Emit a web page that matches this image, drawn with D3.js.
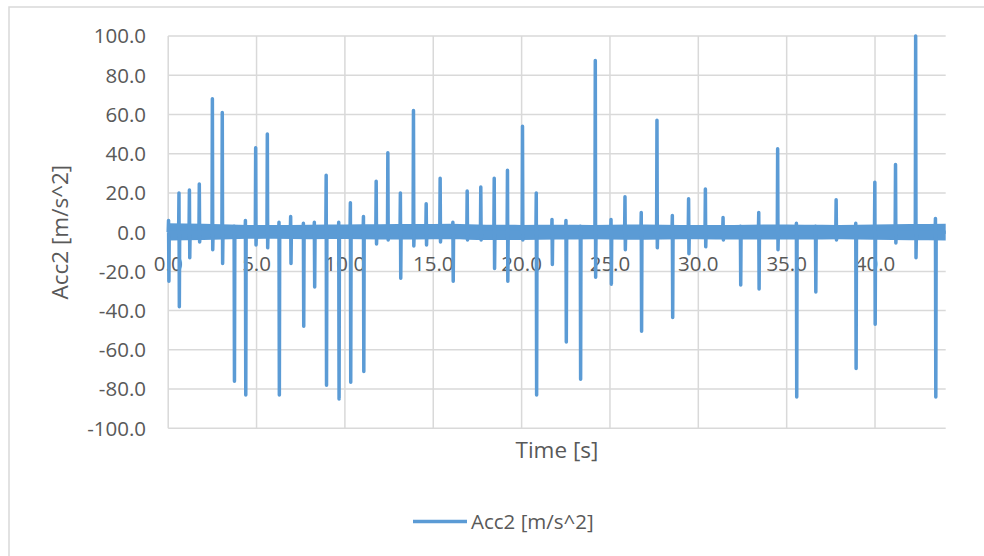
<!DOCTYPE html>
<html>
<head>
<meta charset="utf-8">
<script src="https://cdn.jsdelivr.net/npm/d3@7"></script>
<style>
  body { margin: 0; background: #fff; }
  text { font-family: "Open Sans", sans-serif; fill: #595959; }
</style>
</head>
<body>
<div id="chart"></div>
<script>
// Spikes: time [s], peak value, trough value
const spikeTimes = [0.02, 0.61, 1.2, 1.76, 2.5, 3.06, 3.73, 4.37, 4.95, 5.61, 6.27, 6.93, 7.65, 8.27, 8.94, 9.65,
  10.31, 11.05, 11.77, 12.43, 13.14, 13.88, 14.6, 15.39, 16.11, 16.92, 17.69, 18.45, 19.2, 20.05, 20.83, 21.72,
  22.51, 23.32, 24.17, 25.06, 25.85, 26.77, 27.66, 28.53, 29.45, 30.4, 31.4, 32.38, 33.42, 34.49, 35.55, 36.63,
  37.8, 38.91, 39.99, 41.16, 42.3, 43.42];
const spikeHigh = [6, 20, 21.5, 24.5, 68, 61, 3, 6, 43, 50, 5, 8, 4.5, 5, 29, 5,
  15, 8, 26, 40.5, 20, 62, 14.5, 27.5, 5, 21, 23, 27.5, 31.5, 54, 20, 6.5,
  6, 3, 87.5, 6.5, 18, 10, 57, 8.5, 17, 22, 7.5, 3, 10, 42.5, 4.5, 3,
  16.5, 4.5, 25.5, 34.5, 100, 7];
const spikeLow = [-25, -38, -13, -5, -9, -16, -76, -83, -6.5, -8, -83, -16, -48, -28, -78, -85,
  -76.5, -71, -6, -4, -23.5, -7, -6.5, -5, -25, -4, -4, -18.5, -25, -4, -83, -16.5,
  -56, -75, -23, -26.5, -9, -50.5, -8, -43.5, -11, -7.5, -4, -27, -29, -9, -84, -30.5,
  -4, -69.5, -47, -5.5, -13, -84];

// Envelope of the noisy baseline band
const bandTimes = [0, 2, 4, 6, 8, 10, 12, 14, 16, 18, 20, 22, 24, 26, 28, 30, 32, 34, 36, 38, 40, 42, 44];
const bandUpper = [4.6, 4.3, 3.8, 3.6, 3.8, 3.9, 4, 4.1, 4.3, 3.8, 3.7, 3.8, 3.7, 3.9, 3.8, 3.6, 3.7, 3.9, 3.8, 3.7, 3.9, 4.1, 4.3];
const bandLower = [-4.2, -4, -3.5, -3.4, -3.6, -3.5, -3.8, -3.7, -3.6, -4, -4, -3.8, -3.6, -3.9, -3.7, -3.6, -3.8, -3.7, -3.8, -3.6, -3.9, -4.1, -4.2];

const xTicks = [0, 5, 10, 15, 20, 25, 30, 35, 40];
const yTicks = [-100, -80, -60, -40, -20, 0, 20, 40, 60, 80, 100];
const seriesName = "Acc2 [m/s^2]";

const width = 984, height = 556;
const blue = "#5b9bd5", grid = "#d9d9d9";
const fmt = d => d3.format(".1f")(d).replace("\u2212", "-");

const svg = d3.select("#chart").append("svg")
  .attr("width", width)
  .attr("height", height);

svg.append("rect").attr("width", width).attr("height", height).attr("fill", "#fff");
// chart area border (right and bottom edges run past the picture)
svg.append("rect")
  .attr("x", 9).attr("y", 7).attr("width", 1000).attr("height", 560)
  .attr("fill", "none").attr("stroke", grid).attr("stroke-width", 1.5);

const x = d3.scaleLinear().domain([0, 44]).range([168.2, 945.7]);
const y = d3.scaleLinear().domain([-100, 100]).range([428.3, 36]);

// gridlines
svg.append("g").selectAll("line").data(yTicks).enter().append("line")
  .attr("x1", x(0)).attr("x2", x(44))
  .attr("y1", d => y(d)).attr("y2", d => y(d))
  .attr("stroke", grid).attr("stroke-width", 1.5);
svg.append("g").selectAll("line").data(xTicks).enter().append("line")
  .attr("x1", d => x(d)).attr("x2", d => x(d))
  .attr("y1", y(100)).attr("y2", y(-100))
  .attr("stroke", grid).attr("stroke-width", 1.5);

// tick labels
svg.append("g").selectAll("text").data(yTicks).enter().append("text")
  .attr("x", 146).attr("y", d => y(d)).attr("dy", "0.36em")
  .attr("text-anchor", "end").attr("font-size", "20.5px")
  .text(fmt);
svg.append("g").selectAll("text").data(xTicks).enter().append("text")
  .attr("x", d => x(d)).attr("y", y(0) + 39)
  .attr("text-anchor", "middle").attr("font-size", "20.5px")
  .text(fmt);

// baseline band
const band = bandTimes.map((t, i) => ({t: t, hi: bandUpper[i], lo: bandLower[i]}));
svg.append("path")
  .datum(band)
  .attr("fill", blue)
  .attr("d", d3.area().x(d => x(d.t)).y0(d => y(d.lo)).y1(d => y(d.hi)).curve(d3.curveMonotoneX));

// spikes as one line
const points = [{t: 0, v: 0}];
spikeTimes.forEach((t, i) => {
  points.push({t: t - 0.02, v: 0});
  points.push({t: t, v: spikeHigh[i]});
  points.push({t: t + 0.02, v: spikeLow[i]});
  points.push({t: t + 0.04, v: 0});
});
points.push({t: 44, v: 0});

svg.append("path")
  .datum(points)
  .attr("fill", "none")
  .attr("stroke", blue)
  .attr("stroke-width", 3.5)
  .attr("stroke-linejoin", "round")
  .attr("d", d3.line().x(d => x(d.t)).y(d => y(d.v)));

// axis titles
svg.append("text")
  .attr("x", x(22)).attr("y", 450).attr("dy", "0.35em")
  .attr("text-anchor", "middle").attr("font-size", "22.5px")
  .text("Time [s]");
svg.append("text")
  .attr("transform", `translate(60,${y(0)}) rotate(-90)`)
  .attr("dy", "0.35em")
  .attr("text-anchor", "middle").attr("font-size", "22.5px")
  .text(seriesName);

// legend
const legend = svg.append("g").attr("transform", "translate(413,521.5)");
legend.append("line").attr("x1", 0).attr("x2", 54)
  .attr("stroke", blue).attr("stroke-width", 3.5);
legend.append("text").attr("x", 58).attr("dy", "0.35em")
  .attr("font-size", "20.5px").text(seriesName);
</script>
</body>
</html>
